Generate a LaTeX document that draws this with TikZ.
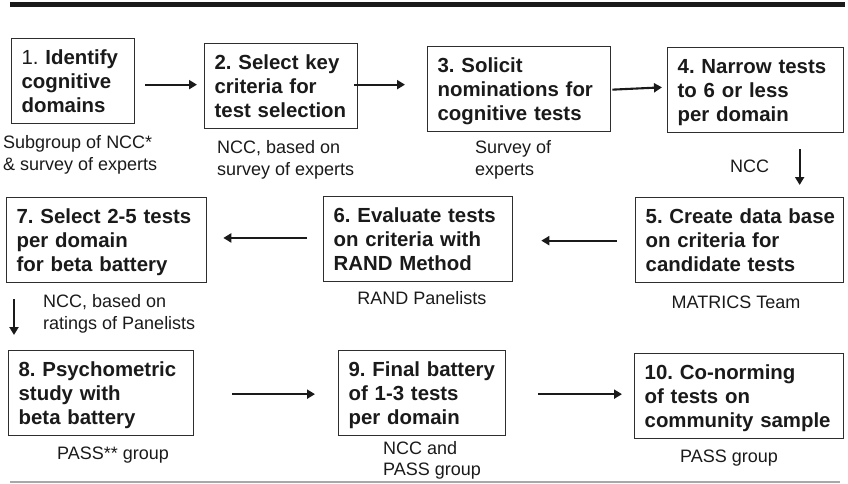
\documentclass[tikz,border=0pt]{standalone}
\usepackage{fontspec}
\setmainfont{Liberation Sans}
\usetikzlibrary{arrows.meta}

\definecolor{ink}{HTML}{1A1A1A}
\definecolor{edge}{HTML}{2E2E2E}
\definecolor{rulegrey}{HTML}{A8A8A8}

% one line of a stage box / of a note, with a fixed strut
\newcommand\boxline[1]{\mbox{\rule[-4.5pt]{0pt}{24pt}#1}}
\newcommand\noteline[1]{\mbox{\rule[-5.5pt]{0pt}{21.7pt}#1}}
\newcommand\boxfont{\fontsize{20.4pt}{24pt}\selectfont\bfseries\frenchspacing}
\newcommand\notefont{\fontsize{18pt}{21.7pt}\selectfont\frenchspacing}

\tikzset{
  stage/.style={draw=edge, line width=1.3pt, anchor=north west,
    inner xsep=10pt, inner ysep=0pt, minimum height=85pt,
    align=left, font=\boxfont, text=ink},
  note/.style={font=\notefont, text=ink, inner sep=0pt},
  notes/.style={note, anchor=north west, align=left},
  arr/.style={line width=2.1pt, draw=ink,
    -{Triangle[length=8pt,width=9pt]}},
}

\begin{document}
\begin{tikzpicture}[x=1pt,y=-1pt]
\useasboundingbox (0,0) rectangle (848,484);

% header and footer rules
\draw[line width=5pt, ink] (10,4.8) -- (845,4.8);
\draw[line width=1.5pt, rulegrey] (10,482) -- (840,482);

% stages, first row
\node[stage, text width=103pt] (b1) at (11,38)
  {\boxline{{\mdseries 1.} Identify}\\\boxline{cognitive}\\\boxline{domains}};
\node[stage, text width=133pt] (b2) at (204,43)
  {\boxline{2. Select key}\\\boxline{criteria for}\\\boxline{test selection}};
\node[stage, text width=163pt] (b3) at (427,46)
  {\boxline{3. Solicit}\\\boxline{nominations for}\\\boxline{cognitive tests}};
\node[stage, text width=156pt] (b4) at (667,47)
  {\boxline{4. Narrow tests}\\\boxline{to 6 or less}\\\boxline{per domain}};

% stages, second row
\node[stage, text width=188pt] (b5) at (635,197)
  {\boxline{5. Create data base}\\\boxline{on criteria for}\\\boxline{candidate tests}};
\node[stage, text width=169pt] (b6) at (323,196)
  {\boxline{6. Evaluate tests}\\\boxline{on criteria with}\\\boxline{RAND Method}};
\node[stage, text width=180pt] (b7) at (6,197)
  {\boxline{7. Select 2-5 tests}\\\boxline{per domain}\\\boxline{for beta battery}};

% stages, third row
\node[stage, text width=165pt] (b8) at (8,350)
  {\boxline{8. Psychometric}\\\boxline{study with}\\\boxline{beta battery}};
\node[stage, text width=147pt] (b9) at (338,350)
  {\boxline{9. Final battery}\\\boxline{of 1-3 tests}\\\boxline{per domain}};
\node[stage, text width=189pt] (b10) at (634,353)
  {\boxline{10. Co-norming}\\\boxline{of tests on}\\\boxline{community sample}};

% who does each step
\node[notes] (n1) at (3,132.1)
  {\noteline{Subgroup of NCC*}\\\noteline{\& survey of experts}};
\node[notes] (n2) at (217,137.1)
  {\noteline{NCC, based on}\\\noteline{survey of experts}};
\node[notes] (n3) at (475,137.1)
  {\noteline{Survey of}\\\noteline{experts}};
\node[note, anchor=base west] (n4) at (730,172.5) {NCC};
\node[note, anchor=base] (n5) at (736,308) {MATRICS Team};
\node[note, anchor=base] (n6) at (422,304) {RAND Panelists};
\node[notes] (n7) at (43,291.1)
  {\noteline{NCC, based on}\\\noteline{ratings of Panelists}};
\node[note, anchor=base] (n8) at (113,459) {PASS** group};
\node[notes] (n9) at (383,437.8)
  {\noteline{NCC and}\\\noteline{PASS group}};
\node[note, anchor=base] (n10) at (729,462.5) {PASS group};

% flow between stages
\draw[arr] ([shift={(10,3.5)}]b1.east) -- ([shift={(-7,-1.5)}]b2.west);
\draw[arr] ([shift={(-4,-1.5)}]b2.east) -- ([shift={(-22,-4.5)}]b3.west);
\draw[arr] ([shift={(1,0.5)}]b3.east) -- ([shift={(-5,-2.8)}]b4.west);
\draw[arr] ([shift={(44,16)}]b4.south) -- ([shift={(60,-12)}]b5.north);
\draw[arr] ([shift={(-18,0.5)}]b5.west) -- ([shift={(28,1.5)}]b6.east);
\draw[arr] ([shift={(-16,-1.2)}]b6.west) -- ([shift={(16,-2.2)}]b7.east);
\draw[arr] ([shift={(8,16)}]b7.south west) -- ([shift={(6,-15)}]b8.north west);
\draw[arr] ([shift={(38,1)}]b8.east) -- ([shift={(-23,1)}]b9.west);
\draw[arr] ([shift={(32,1)}]b9.east) -- ([shift={(-12,-2)}]b10.west);
\end{tikzpicture}
\end{document}
